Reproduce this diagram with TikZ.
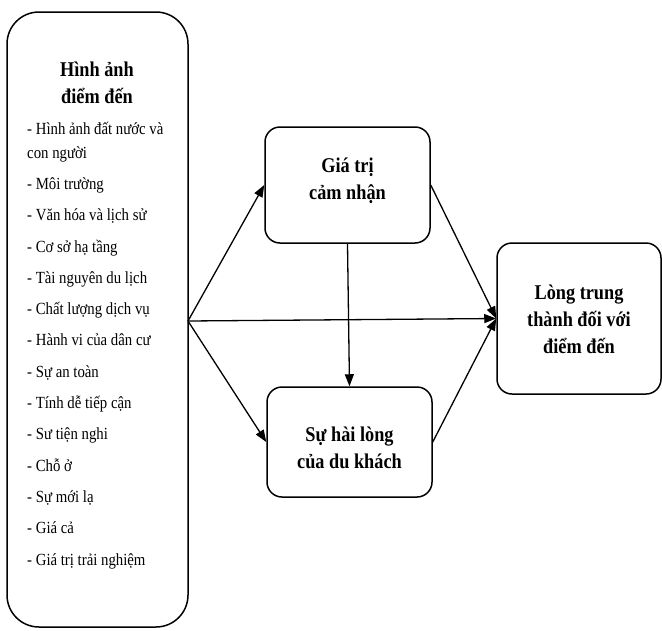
\documentclass[tikz,border=0pt]{standalone}
\usepackage{fontspec}
\setmainfont{Liberation Serif}[FakeStretch=0.87]
\usetikzlibrary{arrows.meta}
\begin{document}
\begin{tikzpicture}[x=1pt,y=-1pt,
  box/.style={draw=black, line width=1.5pt, rounded corners=15pt, fill=white, inner sep=0pt},
  bigbox/.style={draw=black, line width=1.5pt, rounded corners=32pt, inner sep=0pt},
  boxtext/.style={font=\fontsize{21}{27}\selectfont\bfseries, align=center, inner sep=0pt},
  listtext/.style={font=\fontsize{17}{24}\selectfont, align=left, inner sep=0pt},
  link/.style={line width=1.3pt, -{Triangle[length=12pt,width=9pt]}}]
\useasboundingbox (0,0) rectangle (662,630);
% left box
\node[bigbox, minimum width=181pt, minimum height=615pt] (img) at (97.5,319.5) {};
\node[boxtext, anchor=base] (imgtitle) at (97,103) {Hình ảnh\\điểm đến};
\node[listtext, anchor=base west] (imglist) at (27,565) {%
- Hình ảnh đất nước và\\con người\\[7.3pt]
- Môi trường\\[7.3pt]
- Văn hóa và lịch sử\\[7.3pt]
- Cơ sở hạ tầng\\[7.3pt]
- Tài nguyên du lịch\\[7.3pt]
- Chất lượng dịch vụ\\[7.3pt]
- Hành vi của dân cư\\[7.3pt]
- Sự an toàn\\[7.3pt]
- Tính dễ tiếp cận\\[7.3pt]
- Sư tiện nghi\\[7.3pt]
- Chỗ ở\\[7.3pt]
- Sự mới lạ\\[7.3pt]
- Giá cả\\[7.3pt]
- Giá trị trải nghiệm};
% middle and right boxes
\node[box, minimum width=165pt, minimum height=116pt] (pv) at (347.5,185) {};
\node[boxtext] (pvtext) at (347.5,181) {Giá trị\\cảm nhận};
\node[box, minimum width=165pt, minimum height=110pt] (sat) at (349.5,442) {};
\node[boxtext] (sattext) at (349.5,448) {Sự hài lòng\\của du khách};
\node[box, minimum width=164pt, minimum height=151pt] (loy) at (579,318.5) {};
\node[boxtext] (loytext) at (579,319) {Lòng trung\\thành đối với\\điểm đến};
% connectors
\coordinate (src) at (188,321);
\draw[link] (src) -- (pv.west);
\draw[link] (src) -- (sat.west);
\draw[link] (src) -- (loy.west);
\draw[link] (pv.east) -- (loy.west);
\draw[link] (sat.east) -- (loy.west);
\draw[link] (pv.south) -- (sat.north);
\end{tikzpicture}
\end{document}
